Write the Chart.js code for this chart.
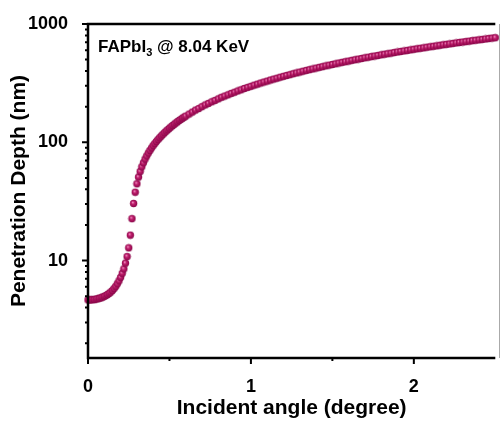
<!DOCTYPE html>
<html>
<head>
<meta charset="utf-8">
<script src="https://cdn.jsdelivr.net/npm/chart.js@4.4.1/dist/chart.umd.min.js"></script>
<style>
  html, body { margin: 0; padding: 0; background: #fff; }
  #chart { display: block; }
</style>
</head>
<body>
<canvas id="chart" width="500" height="421"></canvas>
<script>
// Incident angle (degree)
const angles = [
    0.00, 0.01, 0.02, 0.03, 0.04, 0.05, 0.06, 0.07, 0.08, 0.09,
    0.10, 0.11, 0.12, 0.13, 0.14, 0.15, 0.16, 0.17, 0.18, 0.19,
    0.20, 0.21, 0.22, 0.23, 0.24, 0.25, 0.26, 0.27, 0.28, 0.29,
    0.30, 0.31, 0.32, 0.33, 0.34, 0.35, 0.36, 0.37, 0.38, 0.39,
    0.40, 0.41, 0.42, 0.43, 0.44, 0.45, 0.46, 0.47, 0.48, 0.49,
    0.50, 0.51, 0.52, 0.53, 0.54, 0.55, 0.56, 0.57, 0.58, 0.59,
    0.60, 0.62, 0.64, 0.66, 0.68, 0.70, 0.72, 0.74, 0.76, 0.78,
    0.80, 0.82, 0.84, 0.86, 0.88, 0.90, 0.92, 0.94, 0.96, 0.98,
    1.00, 1.02, 1.04, 1.06, 1.08, 1.10, 1.12, 1.14, 1.16, 1.18,
    1.20, 1.22, 1.24, 1.26, 1.28, 1.30, 1.32, 1.34, 1.36, 1.38,
    1.40, 1.42, 1.44, 1.46, 1.48, 1.50, 1.52, 1.54, 1.56, 1.58,
    1.60, 1.62, 1.64, 1.66, 1.68, 1.70, 1.72, 1.74, 1.76, 1.78,
    1.80, 1.82, 1.84, 1.86, 1.88, 1.90, 1.92, 1.94, 1.96, 1.98,
    2.00, 2.02, 2.04, 2.06, 2.08, 2.10, 2.12, 2.14, 2.16, 2.18,
    2.20, 2.22, 2.24, 2.26, 2.28, 2.30, 2.32, 2.34, 2.36, 2.38,
    2.40, 2.42, 2.44, 2.46, 2.48, 2.50
];

// Penetration depth (nm) for each angle
const depths = [
    4.65, 4.65, 4.66, 4.67, 4.69, 4.72, 4.76, 4.80, 4.85, 4.91,
    4.98, 5.06, 5.16, 5.28, 5.42, 5.59, 5.80, 6.05, 6.36, 6.74,
    7.2, 7.8, 8.5, 9.5, 10.8, 12.8, 16.4, 22.6, 30.4, 37.8,
    44.6, 50.8, 56.6, 62.0, 67.1, 72.0, 76.6, 81.0, 85.3, 89.5,
    93.6, 97.6, 101.6, 105.5, 109.3, 113.1, 116.9, 120.6, 124.3, 127.9,
    131.5, 135.1, 138.7, 142.2, 145.8, 149.3, 152.8, 156.2, 159.7, 163.1,
    166.5, 173, 180, 187, 193, 200, 207, 213, 220, 226,
    233, 240, 246, 252, 259, 265, 272, 278, 285, 291,
    297, 304, 310, 317, 323, 329, 336, 342, 348, 355,
    361, 367, 373, 380, 386, 392, 399, 405, 411, 417,
    424, 430, 436, 443, 449, 455, 461, 468, 474, 480,
    486, 493, 499, 505, 511, 518, 524, 530, 536, 542,
    549, 555, 561, 567, 574, 580, 586, 592, 598, 605,
    611, 617, 623, 629, 636, 642, 648, 654, 661, 667,
    673, 679, 685, 692, 698, 704, 710, 716, 723, 729,
    735, 741, 747, 754, 760, 766
];

const angleTicks = [0, 1, 2];
const angleMinorTicks = [0.5, 1.5];
const depthTicks = [10, 100, 1000];

const FONT = "'Liberation Sans', Arial, sans-serif";

// shaded ball marker
function makeBall() {
    const c = document.createElement('canvas');
    c.width = 9;
    c.height = 9;
    const g = c.getContext('2d');
    const grad = g.createRadialGradient(3.6, 3.3, 0.3, 4.5, 4.5, 3.9);
    grad.addColorStop(0, '#f08cc0');
    grad.addColorStop(0.35, '#c0216e');
    grad.addColorStop(0.8, '#9a0a52');
    grad.addColorStop(1, '#7a0642');
    g.fillStyle = grad;
    g.beginPath();
    g.arc(4.5, 4.5, 3.7, 0, Math.PI * 2);
    g.fill();
    return c;
}

const points = angles.map((a, i) => ({ x: a, y: depths[i] }));

// axis frame, tick marks and the sample label
const framePlugin = {
    id: 'frame',
    afterDraw(chart) {
        const ctx = chart.ctx;
        const { left, right, top, bottom } = chart.chartArea;
        const xs = chart.scales.x;
        const ys = chart.scales.y;
        ctx.save();

        ctx.strokeStyle = '#aaa';
        ctx.lineWidth = 1;
        ctx.beginPath();
        ctx.moveTo(499.5, top);
        ctx.lineTo(499.5, bottom);
        ctx.stroke();

        ctx.strokeStyle = '#000';
        ctx.lineWidth = 2.5;
        ctx.beginPath();
        ctx.moveTo(left, top);
        ctx.lineTo(right, top);
        ctx.moveTo(left, top - 1.25);
        ctx.lineTo(left, bottom + 1.25);
        ctx.moveTo(left, bottom);
        ctx.lineTo(right, bottom);
        ctx.stroke();

        ctx.lineWidth = 2;
        ctx.beginPath();
        angleTicks.forEach(v => {
            const px = xs.getPixelForValue(v);
            ctx.moveTo(px, bottom);
            ctx.lineTo(px, bottom + 6);
        });
        angleMinorTicks.forEach(v => {
            const px = xs.getPixelForValue(v);
            ctx.moveTo(px, bottom);
            ctx.lineTo(px, bottom + 3);
        });
        depthTicks.forEach(v => {
            const py = ys.getPixelForValue(v);
            ctx.moveTo(left - 6, py);
            ctx.lineTo(left, py);
        });
        [1, 10, 100].forEach(dec => {
            for (let k = 2; k <= 9; k++) {
                const v = k * dec;
                if (v < ys.min || v > ys.max) continue;
                const py = ys.getPixelForValue(v);
                ctx.moveTo(left - 3, py);
                ctx.lineTo(left, py);
            }
        });
        ctx.stroke();

        // FAPbI3 @ 8.04 KeV
        ctx.fillStyle = '#000';
        ctx.textBaseline = 'alphabetic';
        ctx.font = 'bold 17px ' + FONT;
        let x = 98;
        const y = 52;
        ctx.fillText('FAPbI', x, y);
        x += ctx.measureText('FAPbI').width;
        ctx.font = 'bold 11px ' + FONT;
        ctx.fillText('3', x, y + 4);
        x += ctx.measureText('3').width;
        ctx.font = 'bold 17px ' + FONT;
        ctx.fillText(' @ 8.04 KeV', x, y);

        ctx.restore();
    }
};

new Chart(document.getElementById('chart'), {
    type: 'scatter',
    data: {
        datasets: [{
            data: points,
            pointStyle: makeBall(),
            pointRadius: 3.7,
            pointHoverRadius: 3.7,
            showLine: false,
            clip: false
        }]
    },
    options: {
        responsive: false,
        animation: false,
        devicePixelRatio: 1,
        layout: { padding: { top: 24, right: 0, bottom: 0, left: 0 } },
        plugins: {
            legend: { display: false },
            tooltip: { enabled: false }
        },
        scales: {
            x: {
                type: 'linear',
                min: 0,
                max: 2.5,
                afterBuildTicks: s => { s.ticks = angleTicks.map(v => ({ value: v })); },
                afterFit: s => { s.height = 63; },
                grid: { display: false },
                border: { display: false },
                ticks: {
                    color: '#000',
                    padding: 10,
                    maxRotation: 0,
                    autoSkip: false,
                    font: { family: FONT, size: 18, weight: 'bold' },
                    callback: v => String(v)
                },
                title: {
                    display: true,
                    text: 'Incident angle (degree)',
                    color: '#000',
                    padding: { top: 0, bottom: 0 },
                    font: { family: FONT, size: 21, weight: 'bold' }
                }
            },
            y: {
                type: 'logarithmic',
                min: 1.5,
                max: 1000,
                afterBuildTicks: s => { s.ticks = depthTicks.map(v => ({ value: v })); },
                afterFit: s => { s.width = 88; },
                grid: { display: false },
                border: { display: false },
                ticks: {
                    color: '#000',
                    padding: 12,
                    autoSkip: false,
                    font: { family: FONT, size: 18, weight: 'bold' },
                    callback: v => String(v)
                },
                title: {
                    display: true,
                    text: 'Penetration Depth (nm)',
                    color: '#000',
                    padding: { top: 7, bottom: 0 },
                    font: { family: FONT, size: 21, weight: 'bold' }
                }
            }
        }
    },
    plugins: [framePlugin]
});
</script>
</body>
</html>
